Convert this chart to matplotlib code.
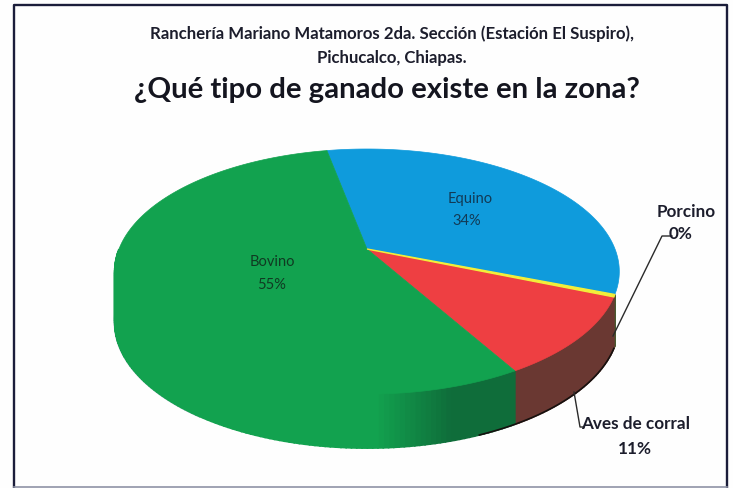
import numpy as np
import matplotlib
matplotlib.use("Agg")
import matplotlib.pyplot as plt
from matplotlib.patches import Polygon

categories = ["Equino", "Porcino", "Aves de corral", "Bovino"]
values = [33.9, 0.3, 10.5, 55.3]
percent_labels = ["34%", "0%", "11%", "55%"]
top_colors = ["#0f9bdc", "#f2ee3a", "#ee3f42", "#12a24f"]
wall_colors = [None, "#4a5a30", "#6a3832", "#0f6d3a"]

START = 101.0
CX, CY, X_R, Y_R, K = 367.0, 250.0, 248.0, 118.4, 0.184
DEPTH_FRONT, DEPTH_BACK = 54.0, 50.0


def rim(theta_deg, depth=False):
    t = np.radians(theta_deg)
    u, v = np.cos(t), np.sin(t)
    den = 1 + K * v
    x = CX + X_R * u / den
    y = CY - Y_R * v / den
    if depth:
        y = y + DEPTH_BACK + (DEPTH_FRONT - DEPTH_BACK) * np.clip(-v, 0, 1)
    return x, y


fig = plt.figure(figsize=(7.33, 4.89), dpi=100, facecolor="#fefefe")
ax = fig.add_axes([0, 0, 1, 1])
ax.set_xlim(0, 733)
ax.set_ylim(489, 0)
ax.axis("off")

ax.plot([14, 14, 727, 727], [488, 6, 6, 488], color="#1b1d3a", lw=1.7, zorder=1)
ax.plot([14, 727], [488, 488], color="#8f93a6", lw=1.2, zorder=1)

fractions = np.array(values) / np.sum(values) * 360.0
ends = START - np.cumsum(fractions)
starts = ends + fractions

# side wall
for i, cat in enumerate(categories):
    if wall_colors[i] is None:
        continue
    grid = np.linspace(starts[i], ends[i], max(3, int(abs(fractions[i]))) + 1)
    for g0, g1 in zip(grid[:-1], grid[1:]):
        mid = 0.5 * (g0 + g1)
        if not -180 < ((mid + 180) % 360 - 180) < 0:
            continue
        gg = np.linspace(g0, g1, 3)
        xt, yt = rim(gg)
        xb, yb = rim(gg[::-1], depth=True)
        if cat == "Bovino":
            xm = rim(mid)[0]
            s = np.clip((xm - 375) / 75, 0, 1)
            col = tuple(np.array(matplotlib.colors.to_rgb(top_colors[i])) * (1 - s)
                        + np.array(matplotlib.colors.to_rgb(wall_colors[i])) * s)
        else:
            col = wall_colors[i]
        ax.add_patch(Polygon(np.r_[np.c_[xt, yt], np.c_[xb, yb]], closed=True,
                             fc=col, ec=col, lw=1.2, zorder=3))

# soft edge along the left of the wall, dark foot under the Aves wall
left = np.linspace(-175, -125, 60)
ax.plot(*rim(left, depth=True), color="#c9c6dc", lw=1.6, zorder=2)
right = np.linspace(ends[1], ends[2] - 8, 60)
ax.plot(*rim(right, depth=True), color="#16110f", lw=1.2, zorder=4)

# top surface
for i, cat in enumerate(categories):
    grid = np.linspace(starts[i], ends[i], max(4, int(fractions[i]) + 2))
    xt, yt = rim(grid)
    pts = np.r_[[[CX, CY]], np.c_[xt, yt]]
    ax.add_patch(Polygon(pts, closed=True, fc=top_colors[i], ec=top_colors[i],
                         lw=0.5 if cat != "Porcino" else 1.0,
                         zorder=6 if cat == "Porcino" else 5))

font = "Lato"
navy = "#1c1d2c"
kw = dict(ha="center", va="center", family=font, zorder=10)
ax.text(392, 34, "Ranchería Mariano Matamoros 2da. Sección (Estación El Suspiro),",
        fontsize=12.1, fontweight="bold", color=navy, **kw)
ax.text(392, 58, "Pichucalco, Chiapas.", fontsize=12.1, fontweight="bold", color=navy, **kw)
ax.text(387, 90, "¿Qué tipo de ganado existe en la zona?",
        fontsize=21.2, fontweight="bold", color="#14151f", **kw)

ax.text(470, 199, categories[0], fontsize=10.5, color="#123a55", **kw)
ax.text(467, 221, percent_labels[0], fontsize=10.5, color="#123a55", **kw)
ax.text(272, 262, categories[3], fontsize=10.5, color="#103a22", **kw)
ax.text(272, 285, percent_labels[3], fontsize=10.5, color="#103a22", **kw)
ax.text(686, 212, categories[1], fontsize=12.3, fontweight="bold", color=navy, **kw)
ax.text(681, 234, percent_labels[1], fontsize=12.3, fontweight="bold", color=navy, **kw)
ax.text(636, 424, categories[2], fontsize=12.3, fontweight="bold", color=navy, **kw)
ax.text(635, 449, percent_labels[2], fontsize=12.3, fontweight="bold", color=navy, **kw)

ax.plot([613, 662, 672], [337, 237, 237], color="#2a2a2a", lw=1.0, zorder=7)
ax.plot([574, 580, 584], [393, 428, 428], color="#2a2a2a", lw=1.0, zorder=7)

fig.savefig("out.png", dpi=100, facecolor=fig.get_facecolor())
